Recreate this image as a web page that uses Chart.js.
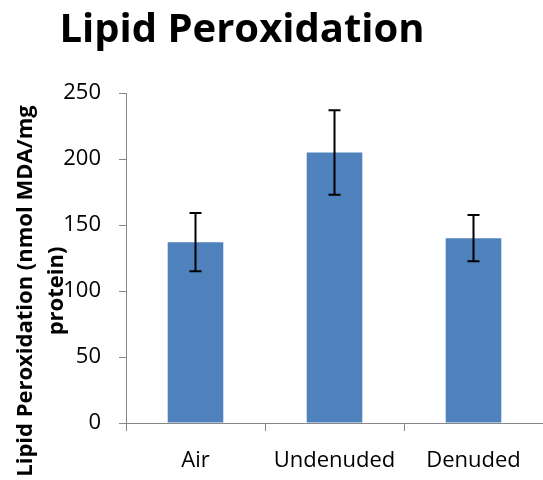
<!DOCTYPE html>
<html>
<head>
<meta charset="utf-8">
<script src="https://cdn.jsdelivr.net/npm/chart.js@4"></script>
<style>
    html, body { margin: 0; padding: 0; background: #fff; overflow: hidden; }
    #wrap { width: 543px; height: 480px; }
</style>
</head>
<body>
<div id="wrap"><canvas id="myChart"></canvas></div>
<script>
const labels = ['Air', 'Undenuded', 'Denuded'];
const values = [137, 205, 140];
const errors = [22, 32, 17.5];
const yTicks = [0, 50, 100, 150, 200, 250];

const chartTitle = 'Lipid Peroxidation';
const yTitleLines = ['Lipid Peroxidation (nmol MDA/mg', 'protein)'];

const FONT = '"Open Sans", sans-serif';
const AXIS_GREY = '#878787';

// title and rotated y-axis title drawn by hand
const titles = {
    id: 'titles',
    afterDraw(chart) {
        const ctx = chart.ctx;
        ctx.save();
        ctx.fillStyle = '#000';
        ctx.font = 'bold 40px ' + FONT;
        ctx.textAlign = 'center';
        ctx.textBaseline = 'alphabetic';
        ctx.fillText(chartTitle, 242, 42);

        ctx.font = 'bold 22px ' + FONT;
        const xs = [32, 63];
        yTitleLines.forEach((line, i) => {
            ctx.save();
            ctx.translate(xs[i], 291);
            ctx.rotate(-Math.PI / 2);
            ctx.fillText(line, 0, 0);
            ctx.restore();
        });
        ctx.restore();
    }
};

// standard error whiskers
const errorBars = {
    id: 'errorBars',
    afterDatasetsDraw(chart) {
        const ctx = chart.ctx;
        const y = chart.scales.y;
        const meta = chart.getDatasetMeta(0);
        ctx.save();
        ctx.strokeStyle = '#000';
        ctx.lineWidth = 2;
        meta.data.forEach((bar, i) => {
            const top = y.getPixelForValue(values[i] + errors[i]);
            const bottom = y.getPixelForValue(values[i] - errors[i]);
            ctx.beginPath();
            ctx.moveTo(bar.x, top);
            ctx.lineTo(bar.x, bottom);
            ctx.moveTo(bar.x - 6, top);
            ctx.lineTo(bar.x + 6, top);
            ctx.moveTo(bar.x - 6, bottom);
            ctx.lineTo(bar.x + 6, bottom);
            ctx.stroke();
        });
        ctx.restore();
    }
};

const data = {
    labels: labels,
    datasets: [
        {
            data: values,
            backgroundColor: '#4F81BD',
            borderWidth: 0,
            barPercentage: 0.4,
            categoryPercentage: 1
        }
    ]
};

const config = {
    type: 'bar',
    data: data,
    options: {
        responsive: true,
        maintainAspectRatio: false,
        animation: false,
        layout: {
            padding: { top: 93, right: -3, bottom: 0, left: 0 }
        },
        scales: {
            x: {
                grid: {
                    offset: true,
                    drawOnChartArea: false,
                    color: AXIS_GREY,
                    tickLength: 8
                },
                border: { color: AXIS_GREY, width: 1 },
                ticks: {
                    color: '#000',
                    font: { family: FONT, size: 22 },
                    padding: 17,
                    maxRotation: 0
                },
                afterFit(scale) { scale.height = 57; }
            },
            y: {
                min: 0,
                max: 250,
                afterBuildTicks(scale) {
                    scale.ticks = yTicks.map(v => ({ value: v }));
                },
                grid: {
                    drawOnChartArea: false,
                    color: AXIS_GREY,
                    tickLength: 7
                },
                border: { color: AXIS_GREY, width: 1 },
                ticks: {
                    color: '#000',
                    font: { family: FONT, size: 22 },
                    padding: 18
                },
                afterFit(scale) { scale.width = 126; }
            }
        },
        plugins: {
            legend: { display: false },
            tooltip: { enabled: false }
        }
    },
    plugins: [errorBars, titles]
};

const myChart = new Chart(
    document.getElementById('myChart'),
    config
);
</script>
</body>
</html>
